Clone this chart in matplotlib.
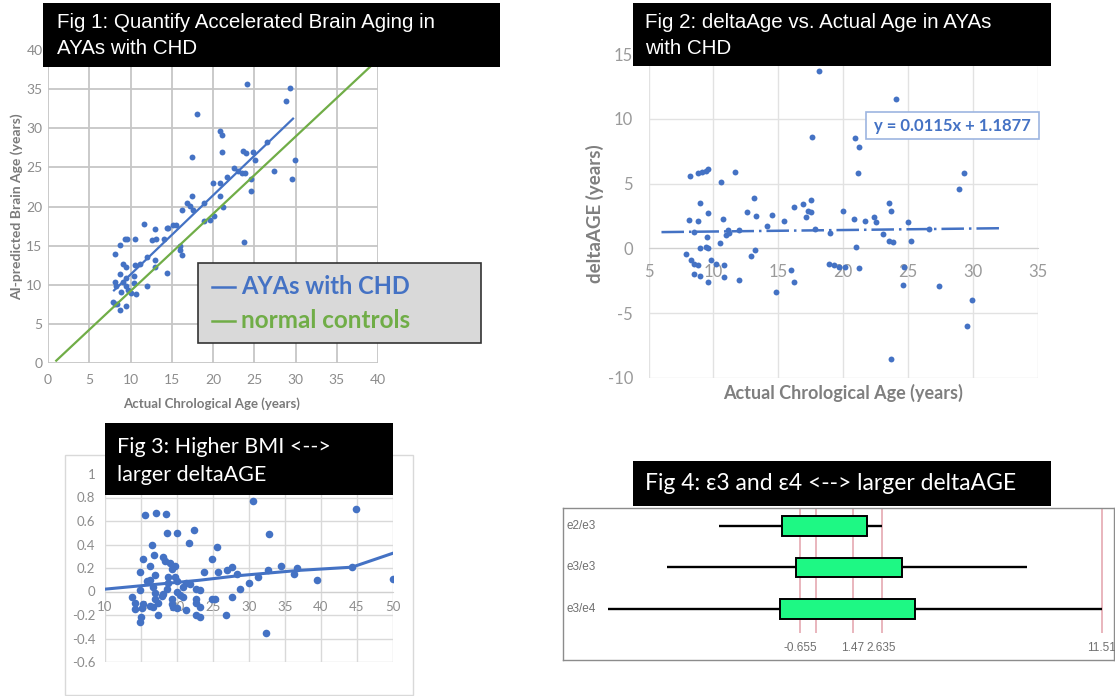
import numpy as np
import matplotlib
matplotlib.use("Agg")
import matplotlib.pyplot as plt
from matplotlib.patches import Rectangle

plt.rcParams["axes.unicode_minus"] = False

W, H = 1115, 696
BLUE = "#4472C4"
GREEN = "#70AD47"
BOX_GREEN = "#1EF884"
CAL = ["Lato", "DejaVu Sans"]
ARIAL = ["Liberation Sans", "DejaVu Sans"]

# ---- Fig 1: brain age vs actual age
f1_age = [24.1, 29.3, 28.9, 18.0, 20.8, 21.1, 17.5, 21.1, 23.6, 24.0,
          26.5, 24.9, 25.1, 29.9, 27.4, 29.6, 24.6, 24.6, 22.5, 23.0,
          23.5, 23.9, 21.7, 20.9, 20.0, 20.9, 21.2, 17.4, 16.8, 17.2,
          17.6, 16.2, 18.9, 18.9, 19.6, 20.1, 16.0, 16.2, 23.7, 14.4,
          11.6, 13.0, 14.4, 15.2, 12.6, 13.1, 14.0, 10.5, 9.3, 8.7,
          8.1, 13.0, 13.0, 12.0, 11.2, 10.5, 9.1, 9.5, 12.0, 10.7,
          10.4, 10.4, 9.5, 8.7, 8.1, 8.3, 9.1, 9.5, 9.7, 8.9,
          10.1, 7.9, 8.4, 8.7, 9.5, 8.1, 16.0, 14.6, 15.5, 9.6]
f1_brain = [35.7, 35.1, 33.5, 31.8, 29.6, 29.1, 26.3, 27.0, 27.1, 26.8,
            28.2, 27.0, 25.9, 25.9, 24.6, 23.5, 23.5, 22.0, 24.9, 24.5,
            24.3, 24.3, 23.8, 23.0, 23.0, 21.3, 19.9, 21.3, 20.5, 20.1,
            19.6, 19.6, 20.4, 18.1, 18.3, 18.8, 14.9, 13.8, 15.4, 11.5,
            17.7, 17.1, 17.2, 17.6, 15.7, 15.9, 15.9, 15.9, 15.9, 15.1,
            13.9, 13.2, 12.3, 13.6, 12.7, 12.5, 12.7, 12.3, 9.8, 8.8,
            10.2, 11.1, 10.8, 11.4, 10.4, 9.8, 10.4, 9.8, 9.3, 9.1,
            8.9, 7.8, 7.6, 6.8, 7.3, 7.6, 14.4, 17.3, 17.6, 15.9]
chd_range = [8.0, 29.7]
ctrl_x = [1.0, 40.0]
ctrl_y = [0.3, 38.8]

# ---- Fig 2: deltaAge vs actual age
f2_age = [18.1, 24.1, 17.6, 20.9, 21.2, 21.1, 29.3, 28.9, 8.2, 8.8,
          9.1, 9.4, 9.6, 10.6, 11.7, 9.0, 8.1, 8.8, 9.6, 10.7,
          12.6, 13.1, 13.3, 14.5, 14.1, 15.4, 16.2, 16.9, 17.5, 17.3,
          17.5, 17.1, 17.8, 20.0, 20.8, 21.7, 22.4, 22.5, 23.5, 23.7,
          25.0, 26.6, 23.1, 23.5, 23.8, 25.2, 21.0, 19.0, 8.5, 10.5,
          9.5, 9.0, 9.4, 9.6, 11.0, 11.1, 12.0, 11.2, 7.9, 8.3,
          8.5, 8.8, 8.5, 9.0, 9.6, 9.8, 10.2, 10.8, 10.8, 12.0,
          12.9, 13.2, 14.8, 16.0, 16.2, 18.9, 19.3, 19.7, 20.1, 21.2,
          24.7, 24.6, 27.4, 29.9, 29.5, 23.7]
f2_delta = [13.7, 11.5, 8.6, 8.5, 7.8, 5.8, 5.8, 4.6, 5.6, 5.8,
            5.9, 6.0, 6.1, 5.1, 5.9, 3.5, 2.2, 2.1, 2.7, 2.3,
            2.8, 3.9, 2.5, 2.6, 1.7, 2.1, 3.2, 3.4, 3.7, 2.9,
            2.8, 2.4, 1.5, 2.9, 2.3, 2.1, 2.4, 2.0, 3.5, 2.9,
            2.0, 1.5, 1.1, 0.6, 0.5, 0.6, 0.1, 1.2, 1.3, 0.4,
            0.9, 0.05, 0.1, 0.0, 1.0, 1.4, 1.4, 1.2, -0.4, -0.9,
            -1.2, -1.3, -2.0, -2.1, -2.6, -0.9, -1.2, -1.3, -2.2, -2.4,
            -0.6, -0.1, -3.4, -1.7, -2.6, -1.2, -1.3, -1.4, -1.4, -1.5,
            -1.4, -2.8, -2.9, -4.0, -6.0, -8.5]
slope, intercept = 0.0115, 1.1877
f2_trend_range = [6.0, 32.0]

# ---- Fig 3: BMI vs deltaAGE
f3_bmi = [30.5, 15.6, 17.1, 18.5, 18.6, 20.0, 22.4, 32.8, 21.6, 16.5,
          25.6, 16.8, 15.3, 18.1, 18.3, 24.8, 16.3, 19.0, 19.7, 19.3,
          14.9, 23.7, 25.7, 26.9, 27.7, 28.3, 32.7, 34.4, 36.6, 36.3,
          31.2, 30.0, 28.7, 16.9, 16.3, 15.8, 18.8, 19.7, 20.0, 18.8,
          18.6, 20.0, 20.9, 21.8, 22.7, 23.2, 21.3, 16.7, 14.8, 16.9,
          18.1, 13.7, 16.9, 17.9, 20.4, 19.3, 20.9, 22.7, 24.8, 25.3,
          27.6, 14.2, 15.3, 16.3, 17.4, 19.3, 22.7, 14.2, 15.1, 16.7,
          19.4, 20.0, 23.2, 21.3, 26.8, 17.4, 22.7, 23.2, 15.0, 14.8,
          32.4, 44.9, 39.4, 44.3, 50.0]
f3_delta = [0.77, 0.65, 0.67, 0.66, 0.50, 0.50, 0.52, 0.49, 0.41, 0.40,
            0.38, 0.31, 0.28, 0.29, 0.26, 0.28, 0.22, 0.24, 0.22, 0.19,
            0.17, 0.17, 0.17, 0.18, 0.21, 0.15, 0.18, 0.22, 0.20, 0.15,
            0.12, 0.07, 0.02, 0.14, 0.10, 0.09, 0.12, 0.12, 0.09, 0.07,
            0.02, 0.00, 0.04, 0.06, 0.02, 0.01, 0.07, 0.04, 0.01, -0.01,
            -0.02, -0.05, -0.06, -0.04, -0.03, -0.06, -0.05, -0.06, -0.06, -0.06,
            -0.05, -0.10, -0.11, -0.12, -0.10, -0.11, -0.10, -0.15, -0.14, -0.13,
            -0.13, -0.14, -0.13, -0.16, -0.20, -0.20, -0.20, -0.22, -0.22, -0.26,
            -0.35, 0.70, 0.10, 0.21, 0.11]
f3_trend_x = [10, 23, 28.75, 37, 44.3, 50]
f3_trend_y = [0.02, 0.095, 0.136, 0.18, 0.207, 0.326]
f3_yticks = [-0.6, -0.4, -0.2, 0, 0.2, 0.4, 0.6, 0.8, 1]

# ---- Fig 4: APOE genotype boxes
genotypes = ["e2/e3", "e3/e3", "e3/e4"]
g_min = [-3.94, -6.01, -8.41]
g_q1 = [-1.38, -0.80, -1.48]
g_q3 = [2.05, 3.44, 3.97]
g_max = [2.635, 8.51, 11.51]
ref_vals = [-0.655, 0, 1.47, 2.635, 11.51]
ref_labels = ["-0.655", "", "1.47", "2.635", "11.51"]

fig = plt.figure(figsize=(W / 100, H / 100), dpi=100)
fig.patch.set_facecolor("white")


def add_ax(x0, y0, x1, y1, **kw):
    return fig.add_axes([x0 / W, 1 - y1 / H, (x1 - x0) / W, (y1 - y0) / H], **kw)


# Fig 1
ax1 = add_ax(48, 50, 378, 363)
ax1.scatter(f1_age, f1_brain, s=18, color=BLUE, linewidths=0, zorder=3)
cx = np.array(chd_range)
ax1.plot(cx, cx + slope * cx + intercept, color=BLUE, lw=1.6, zorder=4)
ax1.plot(ctrl_x, ctrl_y, color=GREEN, lw=1.6, zorder=4)
ax1.set_xlim(0, 40)
ax1.set_ylim(0, 40)
ax1.set_xticks(range(0, 41, 5))
ax1.set_yticks(range(0, 41, 5))
ax1.grid(True, color="#c6c6c6", lw=1.3)
ax1.set_axisbelow(True)
for s in ax1.spines.values():
    s.set_visible(False)
ax1.tick_params(length=0, labelsize=10, labelcolor="#8c8c8c", pad=4)
ax1.tick_params(axis="x", pad=8)
for t in ax1.get_xticklabels() + ax1.get_yticklabels():
    t.set_family(CAL)

# Fig 2
ax2 = add_ax(648.5, 54, 1038, 378)
ax2.scatter(f2_age, f2_delta, s=18, color=BLUE, linewidths=0, zorder=3)
tx = np.array(f2_trend_range)
ax2.plot(tx, slope * tx + intercept, color=BLUE, lw=1.8, ls=(0, (9, 2, 1, 2)), zorder=4)
ax2.set_xlim(5, 35)
ax2.set_ylim(-10, 15)
ax2.set_xticks(range(5, 36, 5))
ax2.set_yticks(range(-10, 16, 5))
ax2.grid(True, color="#e2e2e2", lw=1)
ax2.set_axisbelow(True)
for k in ["top", "right", "left"]:
    ax2.spines[k].set_visible(False)
ax2.spines["bottom"].set_position(("data", 0))
ax2.spines["bottom"].set_color("#d0d0d0")
ax2.tick_params(length=0, labelsize=12, labelcolor="#9a9a9a", pad=11)
for t in ax2.get_xticklabels() + ax2.get_yticklabels():
    t.set_family(CAL)

# Fig 3
ax3 = add_ax(105, 474, 393, 662)
ax3.scatter(f3_bmi, f3_delta, s=30, color=BLUE, linewidths=0, zorder=3)
ax3.plot(f3_trend_x, f3_trend_y, color=BLUE, lw=2.2, zorder=4)
ax3.set_xlim(10, 50)
ax3.set_ylim(-0.6, 1.0)
ax3.set_xticks(range(10, 51, 5))
ax3.set_yticks(f3_yticks)
ax3.set_yticklabels([f"{v:g}" for v in f3_yticks])
ax3.grid(True, color="#d9d9d9", lw=1)
ax3.set_axisbelow(True)
for k in ["top", "right", "left"]:
    ax3.spines[k].set_visible(False)
ax3.spines["bottom"].set_position(("data", 0))
ax3.spines["bottom"].set_color("#d0d0d0")
ax3.tick_params(length=0, labelsize=9.5, labelcolor="#8c8c8c", pad=7)
for t in ax3.get_xticklabels() + ax3.get_yticklabels():
    t.set_family(CAL)

# Fig 4
ax4 = add_ax(563, 508, 1114, 660)
ax4.set_xlim(-10.22, 12.01)
ax4.set_ylim(3.23, -0.434)
ax4.vlines(ref_vals, -0.434, 2.58, color="#e3a2ab", lw=1.1, zorder=1)
for i, g in enumerate(genotypes):
    ax4.hlines(i, g_min[i], g_max[i], color="black", lw=1.7, zorder=2)
    ax4.add_patch(Rectangle((g_q1[i], i - 0.24), g_q3[i] - g_q1[i], 0.48,
                            facecolor=BOX_GREEN, edgecolor="black", lw=1.4, zorder=3))
    ax4.text(0.007, i, g, transform=ax4.get_yaxis_transform(), ha="left", va="center",
             fontsize=8.5, color="#707070", family=ARIAL)
for v, lab in zip(ref_vals, ref_labels):
    ax4.text(v, 2.94, lab, ha="center", va="center", fontsize=8.5, color="#707070", family=ARIAL)
ax4.set_xticks([])
ax4.set_yticks([])
for s in ax4.spines.values():
    s.set_color("#8c8c8c")
    s.set_linewidth(1)

# overlay in pixel coordinates for titles, legend and boxes
ov = fig.add_axes([0, 0, 1, 1], zorder=10)
ov.set_xlim(0, W)
ov.set_ylim(H, 0)
ov.axis("off")

# Fig 1 title + legend
ov.add_patch(Rectangle((43, 3), 457, 64, facecolor="black"))
ov.text(57, 22, "Fig 1: Quantify Accelerated Brain Aging in", color="white", fontsize=14.8, family=ARIAL, va="center")
ov.text(57, 48, "AYAs with CHD", color="white", fontsize=14.8, family=ARIAL, va="center")
ov.add_patch(Rectangle((198, 263), 283, 80, facecolor="#d9d9d9", edgecolor="#333333", lw=1.2))
ov.plot([212, 235], [287, 287], color=BLUE, lw=1.8)
ov.plot([212, 235], [321, 321], color=GREEN, lw=1.8)
ov.text(241, 286, "AYAs with CHD", color=BLUE, fontsize=17, fontweight="bold", family=CAL, va="center")
ov.text(241, 320, "normal controls", color=GREEN, fontsize=17.5, fontweight="bold", family=CAL, va="center")
ov.text(212, 404, "Actual Chrological Age (years)", color="#7a7a7a", fontsize=9.5, fontweight="bold",
        family=CAL, ha="center", va="center")
ov.text(17, 207, "AI-predicted Brain Age (years)", color="#7a7a7a", fontsize=10, fontweight="bold",
        family=CAL, ha="center", va="center", rotation=90)

# Fig 2 title, equation, labels
ov.add_patch(Rectangle((632.6, 3), 418.4, 63, facecolor="black"))
ov.text(645, 22, "Fig 2: deltaAge vs. Actual Age in AYAs", color="white", fontsize=14.8, family=ARIAL, va="center")
ov.text(645, 48, "with CHD", color="white", fontsize=14.8, family=ARIAL, va="center")
ov.add_patch(Rectangle((866, 112), 172.6, 27, facecolor="white", edgecolor="#9db5e0", lw=1.2))
ov.text(952, 125.5, f"y = {slope}x + {intercept}", color=BLUE, fontsize=12, fontweight="bold",
        family=CAL, ha="center", va="center")
ov.text(843, 393, "Actual Chrological Age (years)", color="#7f7f7f", fontsize=13, fontweight="bold",
        family=CAL, ha="center", va="center")
ov.text(595, 214, "deltaAGE (years)", color="#7f7f7f", fontsize=13.5, fontweight="bold",
        family=CAL, ha="center", va="center", rotation=90)

# Fig 3 frame + title
ov.add_patch(Rectangle((65, 455), 348, 240, fill=False, edgecolor="#d9d9d9", lw=1))
ov.add_patch(Rectangle((105, 423), 288, 72, facecolor="black"))
ov.text(117, 447, "Fig 3: Higher BMI <-->", color="white", fontsize=15.5, family=CAL, va="center")
ov.text(117, 475, "larger deltaAGE", color="white", fontsize=15.5, family=CAL, va="center")

# Fig 4 title
ov.add_patch(Rectangle((632.6, 461), 418.7, 45, facecolor="black"))
ov.text(645, 483, "Fig 4: ε3 and ε4 <--> larger deltaAGE", color="white", fontsize=16.5, family=CAL, va="center")

fig.savefig("out.png", dpi=100, facecolor="white")
